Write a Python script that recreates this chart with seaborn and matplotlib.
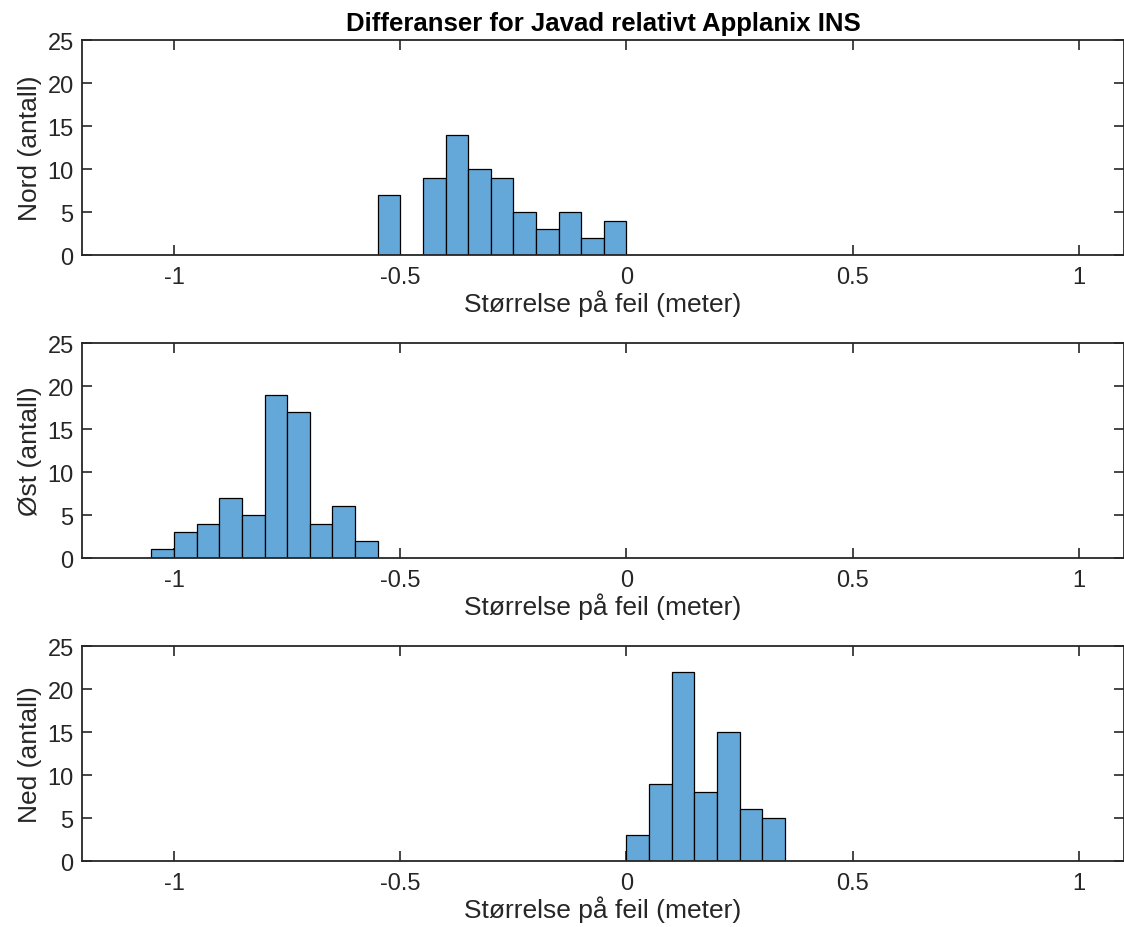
import numpy as np
import matplotlib
matplotlib.use("Agg")
import matplotlib.pyplot as plt
import seaborn as sns

# Histogramdata (bin-senter og antall), bin-bredde 0.05 m
nord_centers = [-0.525, -0.475, -0.425, -0.375, -0.325, -0.275, -0.225, -0.175, -0.125, -0.075, -0.025]
nord_counts = [7, 0, 9, 14, 10, 9, 5, 3, 5, 2, 4]

ost_centers = [-1.025, -0.975, -0.925, -0.875, -0.825, -0.775, -0.725, -0.675, -0.625, -0.575]
ost_counts = [1, 3, 4, 7, 5, 19, 17, 4, 6, 2]

ned_centers = [0.025, 0.075, 0.125, 0.175, 0.225, 0.275, 0.325]
ned_counts = [3, 9, 22, 8, 15, 6, 5]

ylabels = ["Nord (antall)", "Øst (antall)", "Ned (antall)"]
xlabel = "Størrelse på feil (meter)"
title = "Differanser for Javad relativt Applanix INS"
xticks = [-1, -0.5, 0, 0.5, 1]
xticklabels = ["-1", "-0.5", "0", "0.5", "1"]
yticks = [0, 5, 10, 15, 20, 25]

sns.set_theme(style="white")
plt.rcParams["font.family"] = ["Liberation Sans", "DejaVu Sans"]

fig = plt.figure(figsize=(11.24, 9.28), dpi=100)
bottoms = [0.724, 0.3976, 0.0711]
left, width, height = 0.073, 0.927, 0.2317

datasets = [
    (nord_centers, nord_counts, (-0.55, 0.0)),
    (ost_centers, ost_counts, (-1.05, -0.55)),
    (ned_centers, ned_counts, (0.0, 0.35)),
]

for i, (centers, counts, brange) in enumerate(datasets):
    ax = fig.add_axes([left, bottoms[i], width, height])
    sns.histplot(x=centers, weights=counts, binwidth=0.05, binrange=brange,
                 color="#63A8D8", alpha=1.0, edgecolor="black", linewidth=0.9,
                 ax=ax)
    ax.set_xlim(-1.2035, 1.1)
    ax.set_ylim(0, 25)
    ax.set_xticks(xticks)
    ax.set_xticklabels(xticklabels)
    ax.set_yticks(yticks)
    ax.tick_params(direction="in", length=7, width=1.2, colors="#262626",
                   labelsize=17, top=True, right=True, bottom=True, left=True)
    ax.tick_params(axis="x", pad=8)
    ax.tick_params(axis="y", pad=6)
    for s in ax.spines.values():
        s.set_color("#262626")
        s.set_linewidth(1.3)
    ax.set_xlabel(xlabel, fontsize=19, color="#262626", labelpad=1)
    ax.set_ylabel(ylabels[i], fontsize=19, color="#262626", labelpad=4)
    if i == 0:
        ax.set_title(title, fontsize=18.5, fontweight="bold", color="black", pad=7)

fig.savefig("out.png", dpi=100)
